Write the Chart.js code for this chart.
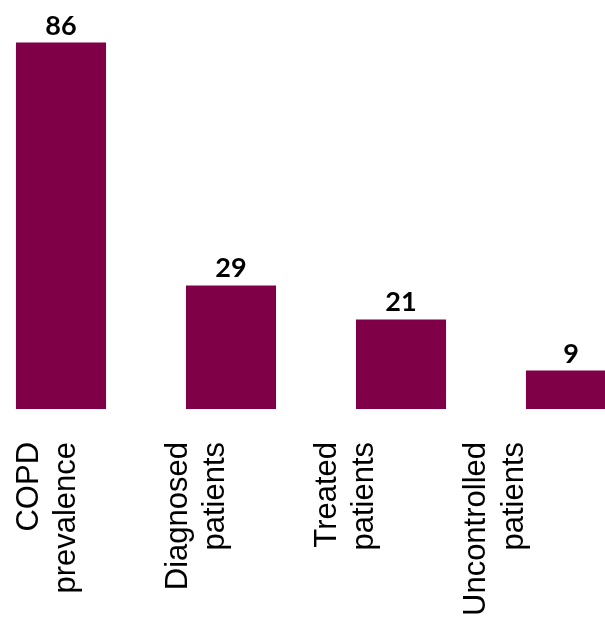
<!DOCTYPE html>
<html>
<head>
<meta charset="utf-8">
<script src="https://cdn.jsdelivr.net/npm/chart.js@4"></script>
<style>
  html, body { margin: 0; padding: 0; background: #fff; overflow: hidden; width: 605px; height: 622px; }
  #chart { position: absolute; left: -24px; top: 0; }
</style>
</head>
<body>
<canvas id="chart" width="680" height="622"></canvas>
<script>
const categories = [
  ['COPD', 'prevalence'],
  ['Diagnosed', 'patients'],
  ['Treated', 'patients'],
  ['Uncontrolled', 'patients']
];
const values = [86, 29, 21, 9];
const labelTicks = [0, 1, 2, 3];

const barColor = '#800048';

// prints the value above each bar
const valueLabels = {
  id: 'valueLabels',
  afterDatasetsDraw(chart) {
    const ctx = chart.ctx;
    const meta = chart.getDatasetMeta(0);
    ctx.save();
    ctx.font = 'bold 27px Lato';
    ctx.fillStyle = '#000';
    ctx.textAlign = 'center';
    ctx.textBaseline = 'alphabetic';
    meta.data.forEach((bar, i) => {
      ctx.fillText(String(values[i]), bar.x, bar.y - 8);
    });
    ctx.restore();
  }
};

new Chart(document.getElementById('chart'), {
  type: 'bar',
  data: {
    labels: categories.map(c => c.join(' ')),
    datasets: [{
      data: values,
      backgroundColor: barColor,
      borderWidth: 0,
      barPercentage: 0.53,
      categoryPercentage: 1
    }]
  },
  options: {
    responsive: false,
    animation: false,
    devicePixelRatio: 1,
    layout: { padding: { top: 0, bottom: 6, left: 0, right: 0 } },
    plugins: { legend: { display: false }, tooltip: { enabled: false } },
    scales: {
      x: { display: false },
      // category names sit on their own axis
      xLabels: {
        type: 'linear',
        position: 'bottom',
        offset: false,
        min: -0.355,
        max: 4.2,
        grid: { display: true, offset: false, drawOnChartArea: false, drawTicks: true, tickLength: 33, color: 'rgba(0,0,0,0)' },
        border: { display: false },
        afterBuildTicks: axis => { axis.ticks = labelTicks.map(v => ({ value: v })); },
        ticks: {
          autoSkip: false,
          minRotation: 90,
          maxRotation: 90,
          padding: 0,
          color: '#000',
          font: { family: 'Liberation Sans', size: 31, lineHeight: 1.2 },
          callback: v => categories[v]
        }
      },
      y: { display: false, min: 0, max: 96 }
    }
  },
  plugins: [valueLabels]
});
</script>
</body>
</html>
